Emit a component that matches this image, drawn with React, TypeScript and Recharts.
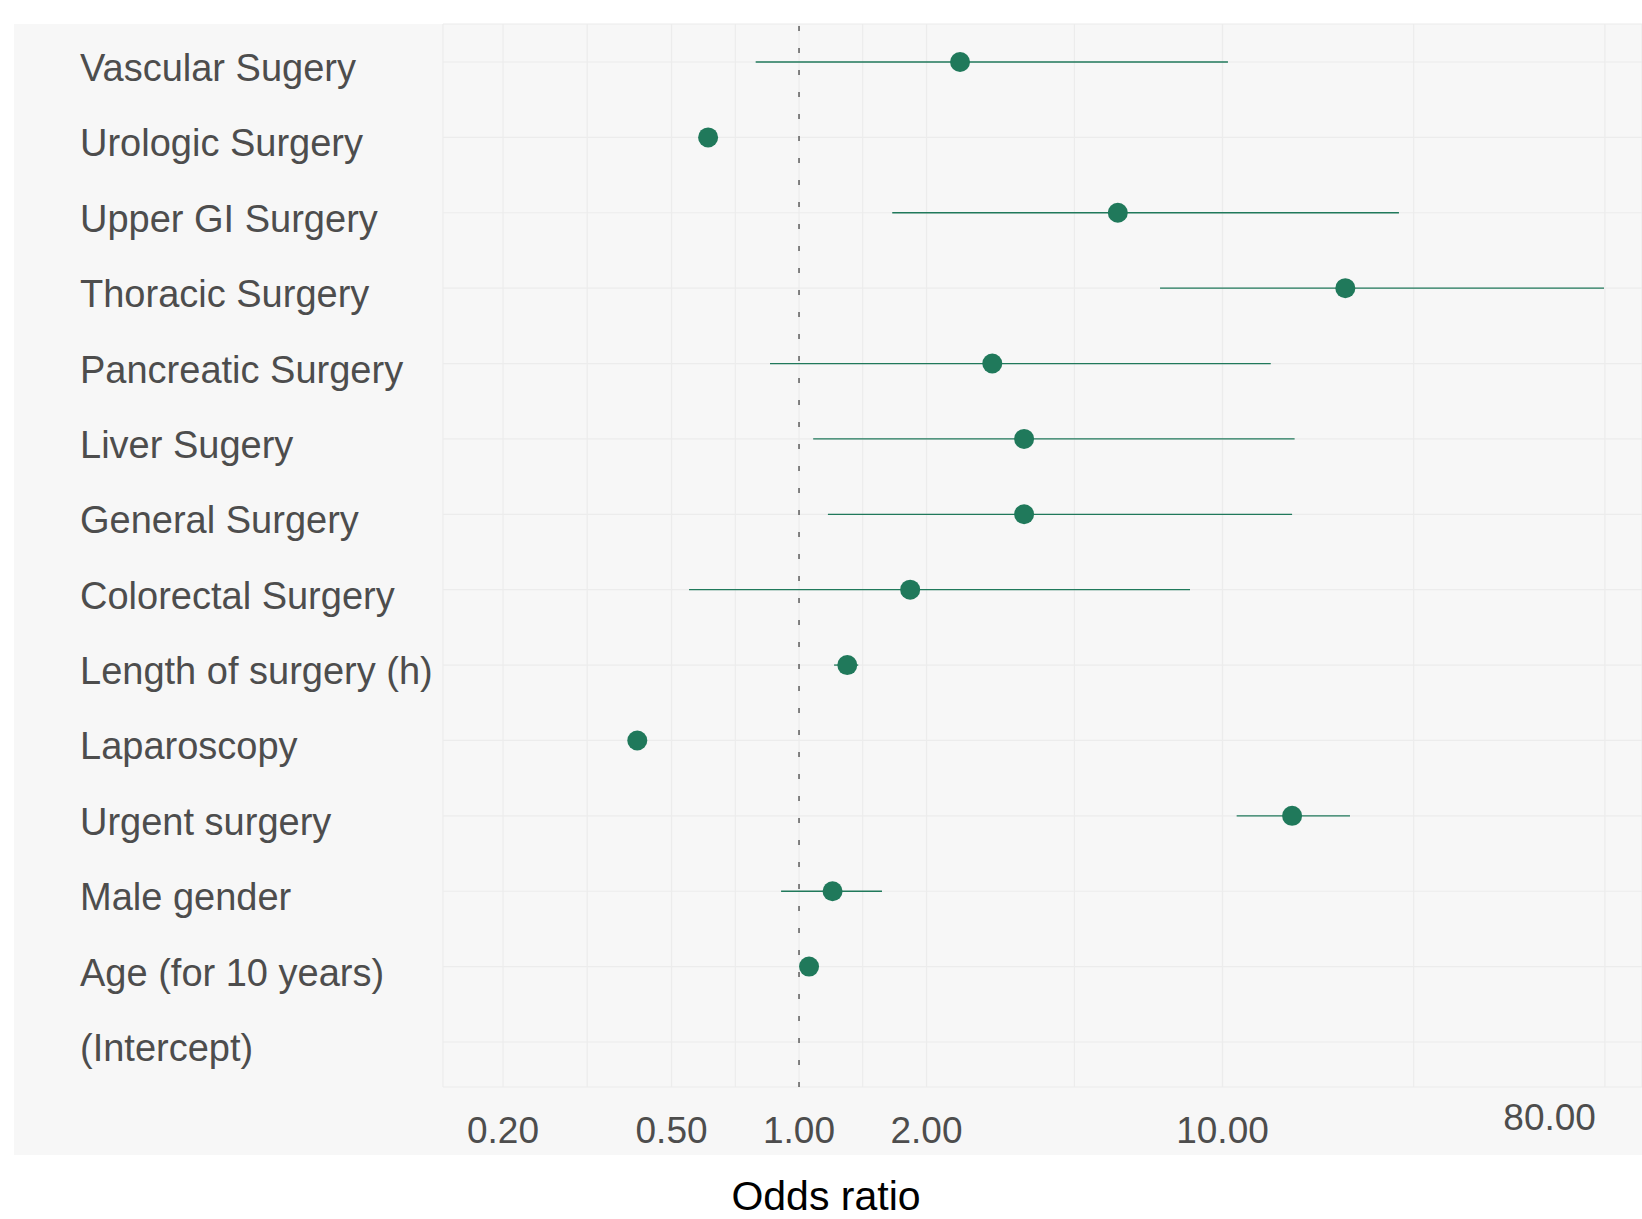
import React from 'react';
import { ScatterChart, Scatter, XAxis, YAxis, CartesianGrid, ReferenceLine, ErrorBar } from 'recharts';

const categories = [
  'Vascular Sugery',
  'Urologic Surgery',
  'Upper GI Surgery',
  'Thoracic Surgery',
  'Pancreatic Surgery',
  'Liver Sugery',
  'General Surgery',
  'Colorectal Surgery',
  'Length of surgery (h)',
  'Laparoscopy',
  'Urgent surgery',
  'Male gender',
  'Age (for 10 years)',
  '(Intercept)',
];

const oddsRatio = [2.4, 0.61, 5.66, 19.5, 2.86, 3.4, 3.4, 1.83, 1.3, 0.415, 14.6, 1.2, 1.056, null];
const ciLower = [0.79, 0.61, 1.66, 7.12, 0.854, 1.08, 1.17, 0.55, 1.21, 0.415, 10.8, 0.907, 1.056, null];
const ciUpper = [10.3, 0.61, 26.1, 79.6, 13.0, 14.8, 14.6, 8.38, 1.38, 0.415, 20.0, 1.57, 1.056, null];

const majorTicks = [0.2, 0.5, 1, 2, 10, 80];
const gridTicks = [0.2, 0.316, 0.5, 0.707, 1, 1.414, 2, 4.47, 10, 28.28, 80];

const GREEN = '#20795b';
const FONT = '"Liberation Sans", Arial, Helvetica, sans-serif';

const rows = categories
  .map((name, i) => ({ name, pos: i, or: oddsRatio[i], lo: ciLower[i], hi: ciUpper[i] }))
  .filter((r) => r.or != null);

const XTick = (props: any) => {
  const { x, y, payload } = props;
  if (!majorTicks.includes(payload.value)) return <g />;
  const last = payload.value === majorTicks[majorTicks.length - 1];
  return (
    <text
      x={last ? x - 9 : x}
      y={y}
      dy={last ? 35 : 48}
      textAnchor={last ? 'end' : 'middle'}
      fontSize={37}
      fill="#4d4d4d"
      fontFamily={FONT}
    >
      {payload.value.toFixed(2)}
    </text>
  );
};

const YTick = (props: any) => {
  const { y, payload } = props;
  return (
    <text x={80} y={y} dy={19} textAnchor="start" fontSize={38} fill="#4d4d4d" fontFamily={FONT}>
      {categories[payload.value]}
    </text>
  );
};

const Dot = (props: any) => <circle cx={props.cx} cy={props.cy} r={10} fill={GREEN} />;

const App: React.FC = () => {
  return (
    <div style={{ position: 'absolute', left: 0, top: 0, width: 1642, height: 1219, background: '#fff', overflow: 'hidden' }}>
      <div style={{ position: 'absolute', left: 14, top: 24, width: 1628, height: 1131, background: '#f7f7f7' }} />
      <div style={{ position: 'absolute', left: 0, top: 0 }}>
        <ScatterChart width={1642} height={1219} margin={{ top: 24, right: 0, bottom: 0, left: 0 }}>
          <CartesianGrid stroke="#ececec" strokeWidth={1.2} />
          <XAxis
            type="number"
            dataKey="or"
            scale="log"
            domain={[0.1443, 97.86]}
            allowDataOverflow
            ticks={gridTicks}
            interval={0}
            axisLine={false}
            tickLine={false}
            height={132}
            tick={<XTick />}
          />
          <YAxis
            type="number"
            dataKey="pos"
            domain={[-0.504, 13.597]}
            reversed
            allowDataOverflow
            ticks={categories.map((_, i) => i)}
            interval={0}
            axisLine={false}
            tickLine={false}
            width={443}
            tick={<YTick />}
          />
          <ReferenceLine x={1} stroke="#666" strokeWidth={1.6} strokeDasharray="5 17" />
          <Scatter data={rows} isAnimationActive={false} shape={<Dot />}>
            <ErrorBar
              dataKey={(d: any) => [d.or - d.lo, d.hi - d.or]}
              direction="x"
              width={0}
              stroke={GREEN}
              strokeWidth={1.3}
              isAnimationActive={false}
            />
          </Scatter>
        </ScatterChart>
      </div>
      <svg width={1642} height={1219} style={{ position: 'absolute', left: 0, top: 0, pointerEvents: 'none' }}>
        <text x={826} y={1210} textAnchor="middle" fontSize={41} fill="#000" fontFamily={FONT}>
          Odds ratio
        </text>
      </svg>
    </div>
  );
};

export default App;
